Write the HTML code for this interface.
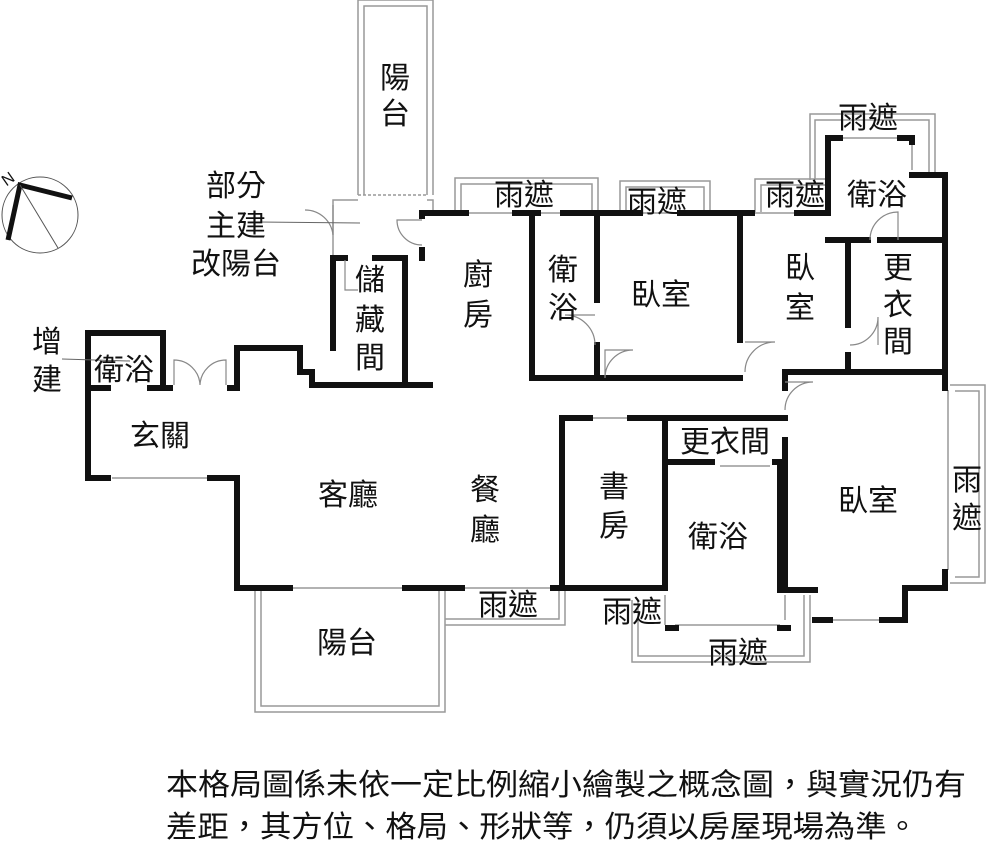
<!DOCTYPE html>
<html><head><meta charset="utf-8"><style>
html,body{margin:0;padding:0;background:#fff;}
svg{display:block;}
text{font-family:"Liberation Sans","Noto Sans CJK TC",sans-serif;fill:#111;}
</style></head><body>
<svg width="1000" height="860" viewBox="0 0 1000 860">
<g fill="none" stroke="#999" stroke-width="1.5">
 <path d="M358 195 V0 H433 V195"/><path d="M364 195 V6 H427 V195"/>
 <path d="M333 258 V200 H358 M427 200 H433 V212"/>
 <path d="M358 195 H427" stroke-dasharray="3,2"/>
 <path d="M255 590 V712 H445 V590"/><path d="M261 590 V706 H439 V590"/>
 <path d="M445 625 H565 V590"/><path d="M445 619 H559 V590"/>
 <path d="M455 212 V178 H598 V212"/><path d="M461 212 V184 H592 V212"/>
 <path d="M620 212 V181 H710 V212"/><path d="M626 212 V187 H704 V212"/>
 <path d="M755 212 V179 H828"/><path d="M761 212 V185 H828"/>
 <path d="M810 180 V114 H935 V175"/><path d="M815 180 V120 H929 V175"/>
 <path d="M950 385 H985 V583 H950"/><path d="M955 391 H979 V577 H955"/>
 <path d="M632 600 V662 H810 V595"/><path d="M638 600 V656 H804 V595"/>
 <path d="M112 478 H210 M290 588 H405 M462 588 H553 M466 213 H515 M538 213 H563 M640 213 H680 M752 213 H797 M840 138 H900 M912 140 V170 M948 390 V570 M830 620 H882 M675 625 H780 M785 595 V620 M665 595 V625 M590 418 H630 M720 466 H770 M588 588 H660"/>
</g>
<g fill="none" stroke="#111" stroke-width="6" stroke-linecap="square">
 <path d="M108 388 H88 V333 H163 V388 H150"/>
 <path d="M88 388 V478 H108"/>
 <path d="M210 478 H237 V588 H290"/>
 <path d="M405 588 H462"/>
 <path d="M553 588 H660"/>
 <path d="M163 388 H170 M230 388 H237 V348 H300 V372 H312 V385 H430"/>
 <path d="M333 258 V348 M333 258 H345 M375 258 H405 V385"/>
 <path d="M422 258 V250 M422 213 V216"/>
 <path d="M422 213 H466 M515 213 H538 M563 213 H640 M680 213 H752 M797 213 H828"/>
 <path d="M532 213 V378 H597 M597 213 V300 M597 345 V378 H740 M740 213 V340"/>
 <path d="M828 213 V138 H840 M900 138 H912 V142 M912 175 H945 V372"/>
 <path d="M828 240 H868 M880 240 H945"/>
 <path d="M848 240 V325 M848 355 V372 M785 372 H945"/>
 <path d="M945 372 V388 M945 572 V588 H905 V620 H882"/>
 <path d="M815 620 H830"/>
 <path d="M785 372 V388 M785 440 V590 H815"/>
 <path d="M562 588 V418 H590 M630 418 H785"/>
 <path d="M665 418 V588 M665 462 H712 M775 462 H785"/>
 <path d="M780 462 V590"/>
 <path d="M668 628 H676 M780 628 H788"/>
</g>
<g fill="none" stroke="#888" stroke-width="1.2">
 <path d="M333 235 A28 28 0 0 0 305 210 M333 205 V235"/>
 <path d="M422 245 A25 25 0 0 1 397 220 H422"/>
 <path d="M200 385 A26 26 0 0 0 174 360 V385 M200 385 A26 26 0 0 1 226 360 V385"/>
 <path d="M595 345 A30 30 0 0 0 565 315 H595"/>
 <path d="M605 378 A28 28 0 0 1 633 350 H605 V378"/>
 <path d="M745 372 A30 30 0 0 1 775 342 H745"/>
 <path d="M850 345 A28 28 0 0 0 878 317 V345"/>
 <path d="M870 240 A28 28 0 0 1 898 212 V240"/>
 <path d="M785 410 A28 28 0 0 1 813 382 H785"/>
 <path d="M345 260 V290 H358"/>
</g>
<g stroke="#666" stroke-width="1">
 <line x1="258" y1="222" x2="360" y2="223"/>
 <line x1="62" y1="359" x2="130" y2="361"/>
</g>
<g>
 <circle cx="40" cy="215" r="38" fill="none" stroke="#555" stroke-width="1"/>
 <path d="M8 240 L20 185 L72 198" fill="none" stroke="#111" stroke-width="5"/>
 <line x1="20" y1="185" x2="58" y2="248" stroke="#555" stroke-width="1"/>
 <text x="2" y="183" font-size="16" transform="rotate(-35 10 178)">N</text>
</g>
<g font-size="30" text-anchor="middle">
 <text x="395" y="88">陽</text><text x="395" y="124">台</text>
 <text x="236" y="196">部分</text><text x="236" y="236">主建</text><text x="236" y="274">改陽台</text>
 <text x="370" y="290">儲</text><text x="370" y="330">藏</text><text x="370" y="368">間</text>
 <text x="478" y="285">廚</text><text x="478" y="325">房</text>
 <text x="563" y="280">衛</text><text x="563" y="318">浴</text>
 <text x="661" y="305">臥室</text>
 <text x="800" y="278">臥</text><text x="800" y="318">室</text>
 <text x="898" y="278">更</text><text x="898" y="315">衣</text><text x="898" y="352">間</text>
 <text x="877" y="205">衛浴</text>
 <text x="868" y="128">雨遮</text>
 <text x="524" y="205">雨遮</text><text x="657" y="212">雨遮</text><text x="795" y="205">雨遮</text>
 <text x="47" y="352">增</text><text x="47" y="390">建</text>
 <text x="124" y="380">衛浴</text>
 <text x="160" y="446">玄關</text>
 <text x="348" y="505">客廳</text>
 <text x="485" y="500">餐</text><text x="485" y="540">廳</text>
 <text x="614" y="497">書</text><text x="614" y="536">房</text>
 <text x="725" y="452">更衣間</text>
 <text x="718" y="547">衛浴</text>
 <text x="868" y="511">臥室</text>
 <text x="967" y="490">雨</text><text x="967" y="528">遮</text>
 <text x="347" y="653">陽台</text>
 <text x="508" y="615">雨遮</text>
 <text x="632" y="622">雨遮</text>
 <text x="738" y="663">雨遮</text>
</g>
<g font-size="30">
 <text x="166" y="795" textLength="800" lengthAdjust="spacingAndGlyphs">本格局圖係未依一定比例縮小繪製之概念圖，與實況仍有</text>
 <text x="166" y="837" textLength="752" lengthAdjust="spacingAndGlyphs">差距，其方位、格局、形狀等，仍須以房屋現場為準。</text>
</g>
</svg>
</body></html>
